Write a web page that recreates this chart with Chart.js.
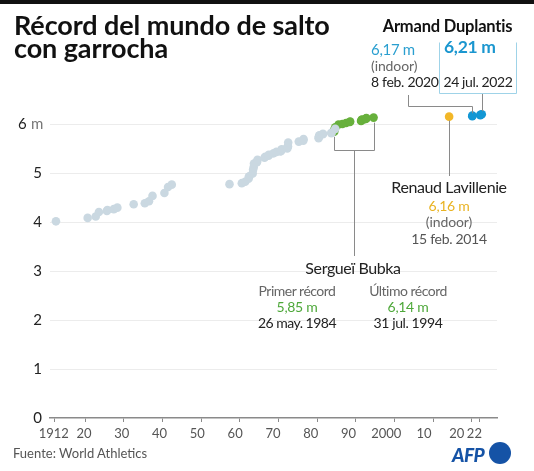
<!DOCTYPE html>
<html>
<head>
<meta charset="utf-8">
<script src="https://cdn.jsdelivr.net/npm/chart.js@4.4.1/dist/chart.umd.min.js"></script>
<style>
  html, body { margin: 0; padding: 0; background: #fff; }
  #wrap { position: relative; width: 534px; height: 471px; overflow: hidden; font-family: Lato, 'Noto Sans', sans-serif; }
  #topbar { position: absolute; left: 0; top: 0; width: 534px; height: 4px; background: #111; }
  #chart { position: absolute; left: 0; top: 0; }
  .lbl { position: absolute; white-space: pre; line-height: 1; }
  #logo { position: absolute; left: 452px; top: 441px; height: 24px; }
  #logo .afp { position: absolute; left: 0; top: 2px; font: italic 900 19px Lato, sans-serif; color: #1553a6; letter-spacing: -0.5px; }
  #logo .dot { position: absolute; left: 37px; top: 1px; width: 22px; height: 22px; border-radius: 50%; background: #1553a6; }
</style>
</head>
<body>
<div id="wrap">
  <div id="topbar"></div>
  <canvas id="chart" width="534" height="471"></canvas>
  <div id="logo"><span class="afp">AFP</span><span class="dot"></span></div>
</div>
<script>
// world records (decimal year, metres)
const otherYears = [1912.44, 1920.64, 1922.72, 1923.55, 1925.61, 1925.74, 1927.40, 1928.32, 1932.54,
  1935.42, 1936.50, 1937.41, 1940.49, 1941.43, 1942.39, 1957.32, 1960.50, 1961.38, 1962.25, 1962.32,
  1962.47, 1963.32, 1963.43, 1963.59, 1963.65, 1964.43, 1964.56, 1966.37, 1966.56, 1967.44, 1967.48,
  1968.70, 1969.47, 1970.46, 1970.67, 1970.81, 1972.27, 1972.29, 1972.45, 1972.50, 1975.24, 1976.41,
  1976.47, 1980.36, 1980.42, 1980.49, 1980.54, 1980.58, 1981.47, 1981.49, 1983.66, 1983.67, 1984.66];
const otherHeights = [4.02, 4.09, 4.12, 4.21, 4.23, 4.25, 4.27, 4.30, 4.37,
  4.39, 4.43, 4.54, 4.60, 4.72, 4.77, 4.78, 4.80, 4.83, 4.89, 4.93,
  4.94, 5.00, 5.08, 5.13, 5.20, 5.23, 5.28, 5.32, 5.34, 5.36, 5.38,
  5.41, 5.44, 5.45, 5.46, 5.49, 5.51, 5.54, 5.55, 5.63, 5.65, 5.67,
  5.70, 5.72, 5.75, 5.75, 5.77, 5.78, 5.80, 5.81, 5.82, 5.83, 5.91];

const bubkaYears = [1984.40, 1984.42, 1984.53, 1984.67, 1985.53, 1986.52, 1987.48, 1988.44, 1988.52,
  1991.34, 1991.44, 1991.52, 1991.59, 1992.45, 1992.66, 1992.72, 1994.58];
const bubkaHeights = [5.85, 5.88, 5.90, 5.94, 6.00, 6.01, 6.03, 6.05, 6.06,
  6.07, 6.08, 6.09, 6.10, 6.11, 6.12, 6.13, 6.14];

const lavillenieYears = [2014.12];
const lavillenieHeights = [6.16];

const duplantisYears = [2020.11, 2020.12, 2022.18, 2022.21, 2022.56];
const duplantisHeights = [6.17, 6.18, 6.19, 6.20, 6.21];

const xTickValues = [1912, 1920, 1930, 1940, 1950, 1960, 1970, 1980, 1990, 2000, 2010, 2020, 2022];
const xTickLabels = ['1912', '20', '30', '40', '50', '60', '70', '80', '90', '2000', '10', '20   ', '   22'];
const yTickValues = [0, 1, 2, 3, 4, 5, 6];

const toPoints = (xs, ys) => xs.map((x, i) => ({ x, y: ys[i] }));

const wrap = document.getElementById('wrap');

// absolute text label, positioned by its baseline
function label(text, x, baseline, size, color, weight = 400, align = 'left', spacing = 0) {
  const el = document.createElement('div');
  el.className = 'lbl';
  el.textContent = text;
  el.style.fontSize = size + 'px';
  el.style.color = color;
  el.style.fontWeight = weight;
  el.style.letterSpacing = spacing + 'px';
  el.style.top = (baseline - 0.887 * size) + 'px';
  if (align === 'center') {
    el.style.left = (x - 200) + 'px';
    el.style.width = '400px';
    el.style.textAlign = 'center';
  } else {
    el.style.left = x + 'px';
  }
  wrap.appendChild(el);
  return el;
}

label('Récord del mundo de salto', 14, 35, 27, '#111', 700, 'left', -0.1);
label('con garrocha', 14, 58, 27, '#111', 700, 'left', -0.1);
label('Fuente: World Athletics', 13, 459, 13, '#555');

// unit next to the top tick label of the y axis
label('m', 31, 129.5, 15, '#777');

label('Armand Duplantis', 447.5, 33, 16.5, '#111', 700, 'center', -0.2);
label('6,17 m', 371, 55, 15, '#2a9fd0', 400, 'left', -0.3);
label('(indoor)', 371, 71.5, 14, '#666', 400, 'left', -0.1);
label('8 feb. 2020', 371, 87.5, 14, '#222', 400, 'left', -0.3);
label('6,21 m', 444, 54, 17.5, '#1a96cf', 700, 'left', -0.3);
label('24 jul. 2022', 443.5, 87.5, 14, '#222', 400, 'left', -0.4);

label('Renaud Lavillenie', 449, 193, 16, '#222', 400, 'center', -0.4);
label('6,16 m', 449, 211, 14, '#e9b323', 400, 'center', -0.3);
label('(indoor)', 449, 227.5, 14, '#666', 400, 'center', -0.1);
label('15 feb. 2014', 449, 244, 14, '#555', 400, 'center', -0.3);

label('Sergueï Bubka', 353, 274, 16, '#222', 400, 'center', -0.4);
label('Primer récord', 297, 296, 14, '#666', 400, 'center', -0.5);
label('5,85 m', 297, 312.5, 14, '#4ea83a', 400, 'center', -0.3);
label('26 may. 1984', 297, 328.5, 14, '#222', 400, 'center', -0.5);
label('Último récord', 408, 296, 14, '#666', 400, 'center', -0.5);
label('6,14 m', 408, 312.5, 14, '#4ea83a', 400, 'center', -0.3);
label('31 jul. 1994', 408, 328.5, 14, '#222', 400, 'center', -0.4);

// leader lines, brackets and the Duplantis box
const leaders = {
  id: 'leaders',
  afterDatasetsDraw(chart) {
    const { ctx, scales: { x, y } } = chart;
    const px = (v) => Math.round(x.getPixelForValue(v)) + 0.5;
    const py = (v) => y.getPixelForValue(v);
    ctx.save();
    ctx.lineWidth = 1;

    // Bubka bracket
    ctx.strokeStyle = '#8a8a8a';
    const b0 = px(bubkaYears[0]);
    const b1 = px(bubkaYears[bubkaYears.length - 1]);
    const bBottom = 150.5;
    ctx.beginPath();
    ctx.moveTo(b0, py(bubkaHeights[0]) + 5);
    ctx.lineTo(b0, bBottom);
    ctx.lineTo(b1, bBottom);
    ctx.lineTo(b1, py(bubkaHeights[bubkaHeights.length - 1]) + 5);
    ctx.moveTo(354.5, bBottom);
    ctx.lineTo(354.5, 256);
    ctx.stroke();

    // Lavillenie
    const lx = px(lavillenieYears[0]);
    ctx.beginPath();
    ctx.moveTo(lx, py(lavillenieHeights[0]) + 4);
    ctx.lineTo(lx, 176);
    ctx.stroke();

    // Duplantis 6,17
    const d0 = px(duplantisYears[0]);
    ctx.beginPath();
    ctx.moveTo(408.5, 95);
    ctx.lineTo(408.5, 106.5);
    ctx.lineTo(d0, 106.5);
    ctx.lineTo(d0, py(duplantisHeights[0]) - 3);
    ctx.stroke();

    // Duplantis 6,21
    const d1 = px(duplantisYears[duplantisYears.length - 1]);
    ctx.beginPath();
    ctx.moveTo(d1, 93.5);
    ctx.lineTo(d1, py(duplantisHeights[duplantisHeights.length - 1]) - 3);
    ctx.stroke();

    // box round the latest record
    ctx.strokeStyle = '#9fd3e8';
    ctx.beginPath();
    ctx.moveTo(439.5, 42.5);
    ctx.lineTo(439.5, 93.5);
    ctx.lineTo(516.5, 93.5);
    ctx.lineTo(516.5, 42.5);
    ctx.stroke();
    ctx.restore();
  },
};

const dotStyle = { pointRadius: 4.3, pointHoverRadius: 4.3, borderWidth: 0, showLine: false };

new Chart(document.getElementById('chart'), {
  type: 'scatter',
  data: {
    datasets: [
      { ...dotStyle, data: toPoints(otherYears, otherHeights), backgroundColor: '#cad8e1' },
      { ...dotStyle, data: toPoints(bubkaYears, bubkaHeights), backgroundColor: '#67b03c' },
      { ...dotStyle, data: toPoints(lavillenieYears, lavillenieHeights), backgroundColor: '#f2b728' },
      { ...dotStyle, data: toPoints(duplantisYears, duplantisHeights), backgroundColor: '#1397d4' },
    ],
  },
  options: {
    responsive: false,
    animation: false,
    events: [],
    layout: { padding: { top: 100, right: 37, left: 0, bottom: 0 } },
    plugins: { legend: { display: false }, tooltip: { enabled: false } },
    scales: {
      // tick marks, aligned with the data
      x: {
        type: 'linear',
        min: 1910.9,
        max: 2026.5,
        weight: 0,
        afterBuildTicks: (scale) => { scale.ticks = xTickValues.map((value) => ({ value })); },
        afterFit: (scale) => { scale.height = 4; },
        ticks: { display: false },
        grid: { display: true, drawOnChartArea: false, drawTicks: true, tickLength: 4, color: '#8a8a8a' },
        border: { display: true, color: '#8a8a8a', width: 1.5 },
      },
      // year labels (the source spaces them a touch tighter than the marks)
      xLabels: {
        type: 'linear',
        position: 'bottom',
        min: 1911.0,
        max: 2029.3,
        weight: 1,
        afterBuildTicks: (scale) => { scale.ticks = xTickValues.map((value) => ({ value })); },
        afterFit: (scale) => { scale.height = 49; },
        ticks: {
          autoSkip: false,
          maxRotation: 0,
          padding: 4,
          color: '#555',
          font: { family: 'Lato', size: 13 },
          callback: (value, index) => xTickLabels[index],
        },
        grid: { display: false, drawTicks: false },
        border: { display: false },
      },
      y: {
        min: 0,
        max: 6.5,
        afterBuildTicks: (scale) => { scale.ticks = yTickValues.map((value) => ({ value })); },
        afterFit: (scale) => { scale.width = 50; },
        ticks: {
          padding: 8,
          color: '#222',
          font: { family: 'Lato', size: 15 },
          // the top label leaves room for the grey unit placed beside it
          callback: (value) => (value === 6 ? '6    ' : String(value)),
        },
        grid: {
          drawTicks: false,
          color: (c) => (c.tick && c.tick.value === 0 ? 'rgba(0,0,0,0)' : '#ececec'),
        },
        border: { display: false },
      },
    },
  },
  plugins: [leaders],
});
</script>
</body>
</html>
